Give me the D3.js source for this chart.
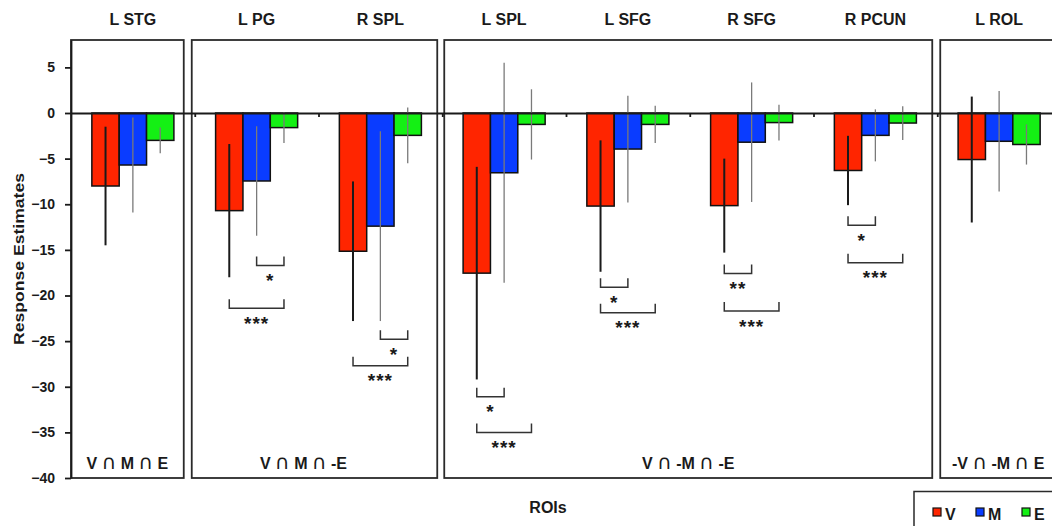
<!DOCTYPE html>
<html>
<head>
<meta charset="utf-8">
<script src="https://cdn.jsdelivr.net/npm/d3@7"></script>
<style>
  body { margin: 0; background: #fff; }
  text { font-family: "Liberation Sans", Arial, sans-serif; font-weight: bold; fill: #1a1a1a; }
</style>
</head>
<body>
<svg id="chart" width="1052" height="526"></svg>
<script>
// ---------------- data ----------------
const categories = ["L STG", "L PG", "R SPL", "L SPL", "L SFG", "R SFG", "R PCUN", "L ROL"];
const seriesNames = ["V", "M", "E"];
const vMeans = [-8.0, -10.7, -15.15, -17.55, -10.2, -10.15, -6.3, -5.1];
const vErrs  = [6.5, 7.3, 7.65, 11.65, 7.2, 5.15, 3.8, 6.9];
const mMeans = [-5.7, -7.45, -12.4, -6.55, -3.95, -3.2, -2.45, -3.1];
const mErrs  = [5.2, 6.0, 10.4, 12.05, 5.85, 6.55, 2.85, 5.5];
const eMeans = [-3.0, -1.6, -2.45, -1.25, -1.25, -1.05, -1.1, -3.45];
const eErrs  = [1.4, 1.7, 3.05, 3.85, 2.05, 1.95, 1.85, 2.2];
const yTicks = [5, 0, -5, -10, -15, -20, -25, -30, -35, -40];

// panels (grouping of ROIs)
const panelLabels = ["V \u2229 M \u2229 E", "V \u2229 M \u2229 -E", "V \u2229 -M \u2229 -E", "-V \u2229 -M \u2229 E"];
const panelFirst = [0, 1, 3, 7];
const panelLast  = [0, 2, 6, 7];

// significance brackets: category, from series, to series, level (value), label
const sigCat   = ["L PG", "L PG", "R SPL", "R SPL", "L SPL", "L SPL", "L SFG", "L SFG", "R SFG", "R SFG", "R PCUN", "R PCUN"];
const sigFrom  = ["M", "V", "M", "V", "V", "V", "V", "V", "V", "V", "V", "V"];
const sigTo    = ["E", "E", "E", "E", "M", "E", "M", "E", "M", "E", "M", "E"];
const sigLevel = [-16.7, -21.4, -24.8, -27.7, -31.1, -35.0, -19.1, -21.9, -17.6, -21.7, -12.3, -16.4];
const sigText  = ["*", "***", "*", "***", "*", "***", "*", "***", "**", "***", "*", "***"];

const colors = { V: "#ff2500", M: "#0a3cff", E: "#14f014" };
const errColors = { V: "#1a1a1a", M: "#7a7a7a", E: "#7a7a7a" };
const errWidths = { V: 2, M: 1.3, E: 1.3 };

// ---------------- layout ----------------
const svg = d3.select("#chart");
svg.append("rect").attr("width", 1052).attr("height", 526).attr("fill", "#fff");

const plotL = 71, plotR = 1061, plotT = 40, plotB = 478;
const y = d3.scaleLinear().domain([-40, 8]).range([plotB, plotT]);
const x0 = d3.scaleBand().domain(categories).range([plotL, plotR])
  .paddingInner(0.337).paddingOuter(0.1685);
const x1 = d3.scaleBand().domain(seriesNames).range([0, x0.bandwidth()]);
const xb = d3.scaleLinear().domain([0, categories.length]).range([plotL, plotR]);

const means = { V: vMeans, M: mMeans, E: eMeans };
const errs = { V: vErrs, M: mErrs, E: eErrs };

// panels
const insetL = [0, -3, 2, 3];
const insetR = [-11, -5, -5, -5];
const labelDx = [0, -11, 0, 0];
panelLabels.forEach((lab, i) => {
  const xl = xb(panelFirst[i]) + insetL[i];
  const xr = xb(panelLast[i] + 1) + insetR[i];
  svg.append("rect").attr("x", xl).attr("y", plotT).attr("width", xr - xl).attr("height", plotB - plotT)
    .attr("fill", "none").attr("stroke", "#2a2a2a").attr("stroke-width", 1.8);
  const t = svg.append("text").attr("x", (xl + xr) / 2 + labelDx[i]).attr("y", 469)
    .attr("text-anchor", "middle").attr("font-size", 16);
  lab.split(/(\u2229)/).forEach(part => {
    const ts = t.append("tspan").text(part);
    if (part === "\u2229") ts.attr("font-family", "DejaVu Sans").attr("font-weight", "normal").attr("font-size", 20);
  });
});

// bars
const bars = [];
categories.forEach((c, ci) => seriesNames.forEach(s => bars.push({ c, s, m: means[s][ci], e: errs[s][ci] })));
svg.append("g").selectAll("rect").data(bars).join("rect")
  .attr("x", d => x0(d.c) + x1(d.s))
  .attr("y", d => Math.min(y(0), y(d.m)))
  .attr("width", x1.bandwidth())
  .attr("height", d => Math.abs(y(d.m) - y(0)))
  .attr("fill", d => colors[d.s])
  .attr("stroke", "#111").attr("stroke-width", 1.5);

// error bars
svg.append("g").selectAll("line").data(bars).join("line")
  .attr("x1", d => x0(d.c) + x1(d.s) + x1.bandwidth() / 2)
  .attr("x2", d => x0(d.c) + x1(d.s) + x1.bandwidth() / 2)
  .attr("y1", d => y(d.m + d.e))
  .attr("y2", d => y(d.m - d.e))
  .attr("stroke", d => errColors[d.s]).attr("stroke-width", d => errWidths[d.s]);

// zero axis with category-boundary ticks
const xAxis = svg.append("g").attr("transform", `translate(0,${y(0)})`)
  .call(d3.axisBottom(xb).tickValues(d3.range(1, categories.length)).tickSize(4).tickSizeOuter(0).tickFormat(""));
xAxis.selectAll("path,line").attr("stroke", "#1a1a1a").attr("stroke-width", 1.8);

// y axis
const yAxis = svg.append("g").attr("transform", `translate(${plotL},0)`)
  .call(d3.axisLeft(y).tickValues(yTicks).tickSize(6).tickPadding(10).tickSizeOuter(0));
yAxis.selectAll("path,line").attr("stroke", "#1a1a1a").attr("stroke-width", 1.8);
yAxis.selectAll("text").attr("font-size", 14).attr("font-family", "Liberation Sans, Arial, sans-serif")
  .attr("font-weight", "bold").attr("fill", "#1a1a1a");

// significance brackets
sigCat.forEach((c, i) => {
  const xa = x0(c) + x1(sigFrom[i]) + x1.bandwidth() / 2;
  const xc = x0(c) + x1(sigTo[i]) + x1.bandwidth() / 2;
  const yy = y(sigLevel[i]);
  svg.append("path").attr("d", `M${xa},${yy - 9}V${yy}H${xc}V${yy - 9}`)
    .attr("fill", "none").attr("stroke", "#333").attr("stroke-width", 1.5);
  svg.append("text").attr("x", (xa + xc) / 2).attr("y", yy + 21.5)
    .attr("text-anchor", "middle").attr("font-size", 19).attr("font-weight", "normal")
    .attr("letter-spacing", 1).attr("fill", "#333").text(sigText[i]);
});

// category labels
svg.append("g").selectAll("text").data(categories).join("text")
  .attr("x", d => x0(d) + x0.bandwidth() / 2).attr("y", 24.5)
  .attr("text-anchor", "middle").attr("font-size", 16).text(d => d);

// axis titles
svg.append("text").attr("transform", "translate(24,259) rotate(-90)")
  .attr("text-anchor", "middle").attr("font-size", 15)
  .attr("textLength", 172).attr("lengthAdjust", "spacingAndGlyphs").text("Response Estimates");
svg.append("text").attr("x", 548).attr("y", 513).attr("text-anchor", "middle")
  .attr("font-size", 16).text("ROIs");

// legend
svg.append("rect").attr("x", 914).attr("y", 491.5).attr("width", 200).attr("height", 60)
  .attr("fill", "#fff").attr("stroke", "#2a2a2a").attr("stroke-width", 1.5);
const legX = [933, 976, 1022];
seriesNames.forEach((s, i) => {
  svg.append("rect").attr("x", legX[i]).attr("y", 508).attr("width", 8).attr("height", 8)
    .attr("fill", colors[s]).attr("stroke", "#111").attr("stroke-width", 1.2);
  svg.append("text").attr("x", legX[i] + 12).attr("y", 520).attr("font-size", 16).text(s);
});
</script>
</body>
</html>
